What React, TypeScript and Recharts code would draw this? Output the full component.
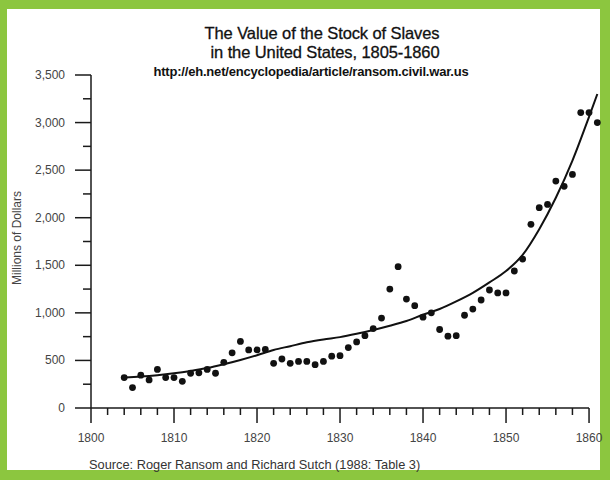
import React from 'react';
import { ComposedChart, Line, Scatter, XAxis, YAxis, ReferenceLine } from 'recharts';

// yearly estimates (dots)
const stockYears = [
  1804, 1805, 1806, 1807, 1808, 1809, 1810, 1811, 1812, 1813, 1814, 1815, 1816, 1817, 1818,
  1819, 1820, 1821, 1822, 1823, 1824, 1825, 1826, 1827, 1828, 1829, 1830, 1831, 1832, 1833,
  1834, 1835, 1836, 1837, 1838, 1839, 1840, 1841, 1842, 1843, 1844, 1845, 1846, 1847, 1848,
  1849, 1850, 1851, 1852, 1853, 1854, 1855, 1856, 1857, 1858, 1859, 1860, 1861,
];
const stockValues = [
  320, 215, 345, 295, 405, 320, 320, 280, 365, 370, 405, 365, 480, 580, 700,
  610, 610, 615, 470, 515, 470, 490, 490, 455, 490, 545, 550, 635, 695, 760,
  835, 945, 1250, 1485, 1145, 1075, 955, 1000, 825, 755, 760, 975, 1040, 1135, 1240,
  1210, 1210, 1440, 1565, 1930, 2105, 2140, 2385, 2330, 2455, 3105, 3105, 3000,
];

// fitted trend curve
const trendYears = [
  1804, 1806, 1808, 1810, 1812, 1814, 1816, 1818, 1820, 1822, 1824, 1826, 1828, 1830, 1832,
  1834, 1836, 1838, 1840, 1842, 1844, 1846, 1848, 1850, 1852, 1854, 1856, 1858, 1860, 1861,
];
const trendValues = [
  320, 330, 345, 365, 390, 420, 460, 505, 555, 610, 650, 690, 720, 745, 780,
  820, 865, 915, 980, 1040, 1120, 1210, 1320, 1440, 1610, 1880, 2210, 2600, 3060, 3300,
];

const xTicks = [
  1800, 1802, 1804, 1806, 1808, 1810, 1812, 1814, 1816, 1818, 1820, 1822, 1824, 1826, 1828,
  1830, 1832, 1834, 1836, 1838, 1840, 1842, 1844, 1846, 1848, 1850, 1852, 1854, 1856, 1858, 1860,
];
const yTicks = [0, 250, 500, 750, 1000, 1250, 1500, 1750, 2000, 2250, 2500, 2750, 3000, 3250, 3500];

const titleLine1 = 'The Value of the Stock of Slaves';
const titleLine2 = 'in the United States, 1805-1860';
const sourceUrl = 'http://eh.net/encyclopedia/article/ransom.civil.war.us';
const yAxisTitle = 'Millions of Dollars';
const sourceNote = 'Source: Roger Ransom and Richard Sutch (1988: Table 3)';

const stockData = stockYears.map((year, i) => ({ year, value: stockValues[i] }));
const trendData = trendYears.map((year, i) => ({ year, value: trendValues[i] }));

const FONT = '"Liberation Sans", Arial, sans-serif';
const INK = '#1a1a1a';

const XTick = (props: any) => {
  const { x, y, payload } = props;
  const major = payload.value % 10 === 0;
  return (
    <g>
      <line x1={x} y1={y} x2={x} y2={y + (major ? 15 : 7)} stroke={INK} strokeWidth={1.5} />
      {major && (
        <text x={x} y={y + 34} textAnchor="middle" fontSize={12} fill="#444" fontFamily={FONT}>
          {payload.value}
        </text>
      )}
    </g>
  );
};

const YTick = (props: any) => {
  const { x, y, payload } = props;
  const major = payload.value % 500 === 0;
  return (
    <g>
      <line x1={x - (major ? 16 : 8)} y1={y} x2={x} y2={y} stroke={INK} strokeWidth={1.5} />
      {major && (
        <text x={x - 26} y={y + 4} textAnchor="end" fontSize={12} fill="#444" fontFamily={FONT}>
          {payload.value.toLocaleString('en-US')}
        </text>
      )}
    </g>
  );
};

const Dot = (props: any) => <circle cx={props.cx} cy={props.cy} r={3.4} fill="#111" />;

const label = (style: React.CSSProperties): React.CSSProperties => ({
  position: 'absolute',
  whiteSpace: 'nowrap',
  fontFamily: FONT,
  color: '#111',
  ...style,
});

export default function App() {
  return (
    <div style={{ position: 'fixed', left: 0, top: 0, width: 610, height: 480, background: '#8cc63f' }}>
      <div style={{ position: 'absolute', left: 7, top: 9, width: 593, height: 461, background: '#fff' }} />

      <div style={label({ left: 122, top: 24, width: 400, textAlign: 'center', fontSize: 16.5, lineHeight: '18px', letterSpacing: -0.1, WebkitTextStroke: '0.3px #111' })}>
        {titleLine1}
      </div>
      <div style={label({ left: 125, top: 43, width: 400, textAlign: 'center', fontSize: 16.5, lineHeight: '18px', letterSpacing: -0.1, WebkitTextStroke: '0.3px #111' })}>
        {titleLine2}
      </div>
      <div style={label({ left: 111, top: 65, width: 400, textAlign: 'center', fontSize: 13, fontWeight: 'bold', lineHeight: '14px', letterSpacing: -0.2 })}>
        {sourceUrl}
      </div>
      <div style={label({ left: 17 - 60, top: 238 - 7, width: 120, textAlign: 'center', fontSize: 12, lineHeight: '14px', color: '#444', transform: 'rotate(-90deg)' })}>
        {yAxisTitle}
      </div>
      <div style={label({ left: 89, top: 458, fontSize: 12.8, lineHeight: '14px', color: '#333' })}>
        {sourceNote}
      </div>

      <div style={{ position: 'absolute', left: 0, top: 0 }}>
        <ComposedChart width={610} height={480} margin={{ top: 75, right: 11, bottom: 42, left: 31 }}>
          <XAxis
            type="number"
            dataKey="year"
            domain={[1800, 1861.2]}
            ticks={xTicks}
            interval={0}
            axisLine={false}
            tickLine={false}
            tickSize={0}
            tickMargin={0}
            tick={<XTick />}
            height={30}
          />
          <YAxis
            type="number"
            dataKey="value"
            domain={[0, 3500]}
            ticks={yTicks}
            interval={0}
            axisLine={{ stroke: INK, strokeWidth: 1.5 }}
            tickLine={false}
            tickSize={0}
            tickMargin={0}
            tick={<YTick />}
            width={60}
          />
          <ReferenceLine
            segment={[{ x: 1800, y: 0 }, { x: 1860, y: 0 }]}
            stroke={INK}
            strokeWidth={1.5}
          />
          <Scatter data={stockData} dataKey="value" shape={<Dot />} isAnimationActive={false} />
          <Line
            data={trendData}
            dataKey="value"
            type="monotone"
            stroke="#111"
            strokeWidth={2}
            dot={false}
            activeDot={false}
            isAnimationActive={false}
          />
        </ComposedChart>
      </div>
    </div>
  );
}
